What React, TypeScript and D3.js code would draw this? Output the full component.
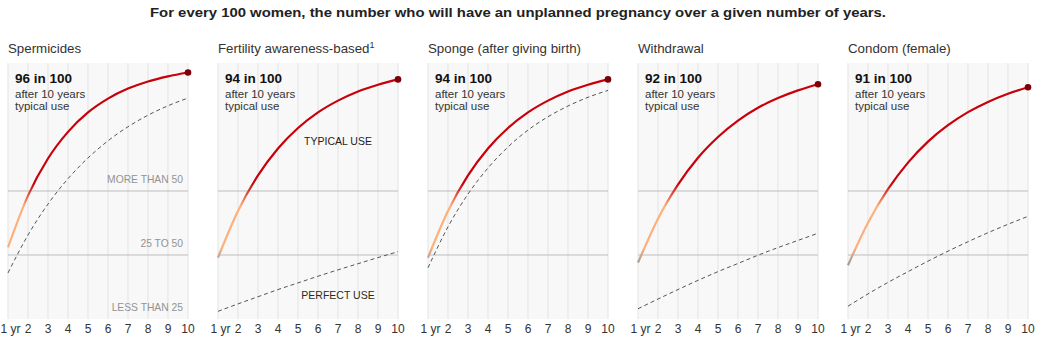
import React from "react";
import * as d3 from "d3";

const years = [1, 2, 3, 4, 5, 6, 7, 8, 9, 10];
const methods = [
  "Spermicides",
  "Fertility awareness-based",
  "Sponge (after giving birth)",
  "Withdrawal",
  "Condom (female)",
];
const footnotes = ["", "1", "", "", ""];
const tenYearLabels = [96, 94, 94, 92, 91];

const typicalSpermicides = [28, 48.2, 62.7, 73.1, 80.7, 86.1, 90.0, 92.8, 94.8, 96.3];
const perfectSpermicides = [18, 32.8, 44.9, 54.8, 62.9, 69.6, 75.1, 79.6, 83.3, 86.3];
const typicalFertility = [24, 42.2, 56.1, 66.6, 74.6, 80.7, 85.3, 88.9, 91.5, 93.6];
const perfectFertility = [3, 5.9, 8.7, 11.5, 14.1, 16.7, 19.2, 21.6, 24.0, 26.3];
const typicalSponge = [24, 42.2, 56.1, 66.6, 74.6, 80.7, 85.3, 88.9, 91.5, 93.6];
const perfectSponge = [20, 36, 48.8, 59, 67.2, 73.8, 79, 83.2, 86.6, 89.3];
const typicalWithdrawal = [22, 39.2, 52.5, 63, 71.1, 77.5, 82.5, 86.3, 89.3, 91.7];
const perfectWithdrawal = [4, 7.8, 11.5, 15.1, 18.5, 21.7, 24.9, 27.9, 30.7, 33.5];
const typicalCondomF = [21, 37.6, 50.7, 61.1, 69.3, 75.7, 80.8, 84.8, 88, 90.5];
const perfectCondomF = [5, 9.8, 14.3, 18.5, 22.6, 26.5, 30.2, 33.7, 37, 40.1];

const typicalSeries = [typicalSpermicides, typicalFertility, typicalSponge, typicalWithdrawal, typicalCondomF];
const perfectSeries = [perfectSpermicides, perfectFertility, perfectSponge, perfectWithdrawal, perfectCondomF];

const bandLines = [25, 50];
const bandLabels = [
  { text: "MORE THAN 50", v: 50 },
  { text: "25 TO 50", v: 25 },
  { text: "LESS THAN 25", v: 0 },
];

const TITLE = "For every 100 women, the number who will have an unplanned pregnancy over a given number of years.";

const W = 1042;
const H = 343;
const PANEL_X0 = 8;
const PANEL_STEP = 210;
const PANEL_W = 180;
const Y_TOP = 63;
const Y_BOTTOM = 319;
const FONT = "'Liberation Sans', Arial, sans-serif";

const RED = "#c8000a";
const ORANGE = "#fdb07c";
const GRAY = "#9a9a9a";

export default function App() {
  const x = d3.scaleLinear().domain([1, 10]).range([0, PANEL_W]);
  const y = d3.scaleLinear().domain([0, 100]).range([Y_BOTTOM, Y_TOP]);
  const line = d3
    .line<number>()
    .x((_, i) => x(years[i]))
    .y((d) => y(d))
    .curve(d3.curveMonotoneX);

  const stop = (v: number) => `${v}%`;

  return (
    <svg width={W} height={H} style={{ display: "block", position: "absolute", left: 0, top: 0 }}>
      <defs>
        <linearGradient id="typGrad" gradientUnits="userSpaceOnUse" x1={0} x2={0} y1={y(0)} y2={y(100)}>
          <stop offset={stop(0)} stopColor={GRAY} />
          <stop offset={stop(21)} stopColor={GRAY} />
          <stop offset={stop(28)} stopColor={ORANGE} />
          <stop offset={stop(44)} stopColor={ORANGE} />
          <stop offset={stop(53)} stopColor={RED} />
          <stop offset={stop(100)} stopColor={RED} />
        </linearGradient>
      </defs>
      <rect x={0} y={0} width={W} height={H} fill="#fff" />
      <text
        x={518}
        y={17}
        textAnchor="middle"
        fontFamily={FONT}
        fontWeight="bold"
        fontSize={13.5}
        fill="#222"
        textLength={736}
        lengthAdjust="spacingAndGlyphs"
      >
        {TITLE}
      </text>
      {methods.map((m, pi) => {
        const px = PANEL_X0 + pi * PANEL_STEP;
        const typ = typicalSeries[pi];
        const perf = perfectSeries[pi];
        return (
          <g key={m} transform={`translate(${px},0)`}>
            <text x={0} y={53} fontFamily={FONT} fontSize={13.3} fill="#333">
              {m}
              {footnotes[pi] && (
                <tspan dy={-5} fontSize={9}>
                  {footnotes[pi]}
                </tspan>
              )}
            </text>
            <rect x={0} y={Y_TOP} width={PANEL_W} height={Y_BOTTOM - Y_TOP} fill="#f8f8f8" />
            {years.map((yr) => (
              <line
                key={yr}
                x1={x(yr)}
                x2={x(yr)}
                y1={Y_TOP}
                y2={Y_BOTTOM}
                stroke="#e3e3e3"
                strokeWidth={1}
              />
            ))}
            {bandLines.map((v) => (
              <line key={v} x1={0} x2={PANEL_W} y1={y(v)} y2={y(v)} stroke="#bdbdbd" strokeWidth={1} />
            ))}
            {pi === 0 &&
              bandLabels.map((b) => (
                <text
                  key={b.text}
                  x={PANEL_W - 5}
                  y={y(b.v) - 8}
                  textAnchor="end"
                  fontFamily={FONT}
                  fontSize={10.3}
                  fill="#939393"
                >
                  {b.text}
                </text>
              ))}
            {pi === 1 && (
              <g>
                <text x={120} y={145} textAnchor="middle" fontFamily={FONT} fontSize={10.5} fill="#2a1a1a">
                  TYPICAL USE
                </text>
                <text x={120} y={299} textAnchor="middle" fontFamily={FONT} fontSize={10.5} fill="#2a2a1a">
                  PERFECT USE
                </text>
              </g>
            )}
            <path d={line(perf) || ""} fill="none" stroke="#555" strokeWidth={1} strokeDasharray="4,3" />
            <path d={line(typ) || ""} fill="none" stroke="url(#typGrad)" strokeWidth={2.2} />
            <circle cx={x(10)} cy={y(typ[typ.length - 1])} r={3.3} fill="#7d0009" />
            <text x={7} y={83} fontFamily={FONT} fontWeight="bold" fontSize={13.5} fill="#111">
              {`${tenYearLabels[pi]} in 100`}
            </text>
            <text x={7} y={98} fontFamily={FONT} fontSize={11.5} fill="#333">
              after 10 years
            </text>
            <text x={7} y={110} fontFamily={FONT} fontSize={11.5} fill="#333">
              typical use
            </text>
            {years.map((yr) => (
              <text
                key={"t" + yr}
                x={yr === 1 ? x(yr) - 7.5 : x(yr)}
                y={333}
                textAnchor={yr === 1 ? "start" : "middle"}
                fontFamily={FONT}
                fontSize={12}
                fill="#333"
              >
                {yr === 1 ? "1 yr" : String(yr)}
              </text>
            ))}
          </g>
        );
      })}
    </svg>
  );
}
